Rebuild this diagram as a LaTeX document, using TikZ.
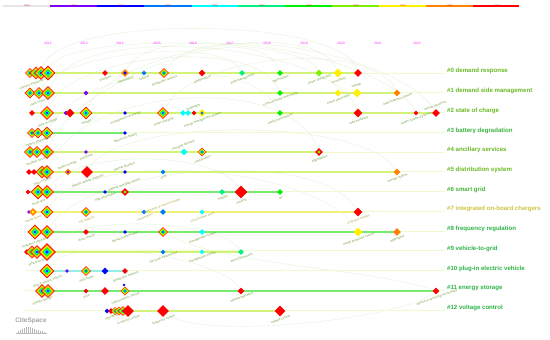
\documentclass[tikz,border=0pt]{standalone}
\usepackage{fontspec}
\setmainfont{Liberation Sans}
\usetikzlibrary{shapes.geometric,positioning,backgrounds}
% year colours of the time slices
\definecolor{csgray}{RGB}{230,230,230}
\definecolor{cspurple}{RGB}{120,0,255}
\definecolor{csblue}{RGB}{0,0,255}
\definecolor{csazure}{RGB}{0,120,255}
\definecolor{cscyan}{RGB}{0,255,255}
\definecolor{csspring}{RGB}{0,240,130}
\definecolor{csgreen}{RGB}{0,240,0}
\definecolor{cslime}{RGB}{125,240,0}
\definecolor{csyellow}{RGB}{255,240,0}
\definecolor{csorange}{RGB}{255,130,0}
\definecolor{csred}{RGB}{255,0,0}
\definecolor{csmag}{RGB}{255,40,255}
% timelines and texts
\definecolor{lnyg}{RGB}{210,242,120}
\definecolor{lngreen}{RGB}{120,235,110}
\definecolor{lnyellow}{RGB}{242,242,120}
\definecolor{lncyan}{RGB}{150,240,225}
\definecolor{tagolive}{RGB}{105,185,35}
\definecolor{tagkhaki}{RGB}{205,195,60}
\definecolor{taggreen}{RGB}{45,180,70}
\definecolor{kwgreen}{RGB}{110,160,60}
\definecolor{kwkhaki}{RGB}{175,170,70}
\definecolor{arcgreen}{RGB}{175,215,135}

% concentric year rings: name, x, y, size
\newcommand{\tring}[4]{%
  \node[dia={#4}, fill=csred] (#1) at (#2,#3) {};
  \node[dia={0.86*#4}, fill=csorange] (#1o) at (#2,#3) {};
  \node[dia={0.72*#4}, fill=csyellow] (#1y) at (#2,#3) {};
  \node[dia={0.6*#4}, fill=cslime] (#1l) at (#2,#3) {};
  \node[dia={0.48*#4}, fill=csgreen] (#1g) at (#2,#3) {};
  \node[dia={0.36*#4}, fill=cscyan] (#1c) at (#2,#3) {};
  \node[dia={0.24*#4}, fill=csazure] (#1a) at (#2,#3) {};
  \node[dia={0.13*#4}, fill=csblue] (#1b) at (#2,#3) {};}
% two-tone node: name, x, y, size, outer, inner
\newcommand{\dnode}[6]{%
  \node[dia={#4}, fill=#5] (#1) at (#2,#3) {};
  \node[dia={0.45*#4}, fill=#6] (#1c) at (#2,#3) {};}

\begin{document}
\begin{tikzpicture}[x=1pt, y=-1pt,
  dia/.style={diamond, draw=none, inner sep=0pt, minimum size=#1},
  kw/.style={font=\fontsize{3.1}{3.5}\selectfont, text=kwgreen, rotate=20, inner sep=0.3pt},
  kwk/.style={kw, text=kwkhaki},
  tag/.style={font=\bfseries\fontsize{6.1}{7}\selectfont, anchor=west, inner sep=0pt},
  yr/.style={font=\fontsize{3.3}{3.8}\selectfont, text=csmag, inner sep=0pt},
  barlbl/.style={font=\fontsize{2.4}{3}\selectfont, text=red!70!gray, inner sep=0pt},
  arc/.style={draw=arcgreen, opacity=0.3, line width=0.4pt},
  guide/.style={draw=lnyg!35, line width=0.6pt},
  tl/.style={line width=1.4pt, draw=#1}]
\useasboundingbox (0,0) rectangle (550,340);

% colour bar of the time slices
\fill[csgray] (3,4.5) rectangle (50,7.3);
\fill[cspurple] (50,4.5) rectangle (97,7.3);
\fill[csblue] (97,4.5) rectangle (144,7.3);
\fill[csazure] (144,4.5) rectangle (192,7.3);
\fill[cscyan] (192,4.5) rectangle (238,7.3);
\fill[csspring] (238,4.5) rectangle (285,7.3);
\fill[csgreen] (285,4.5) rectangle (332,7.3);
\fill[cslime] (332,4.5) rectangle (379,7.3);
\fill[csyellow] (379,4.5) rectangle (426,7.3);
\fill[csorange] (426,4.5) rectangle (473,7.3);
\fill[csred] (473,4.5) rectangle (519,7.3);
\foreach \yy [count=\k from 0] in {2012,...,2022}
  \node[barlbl] (b\k) at (27+47*\k,6) {\yy};

% year scale
\node[yr] (y0) at (48,43) {2012};
\node[yr] (y1) at (84,43) {2013};
\node[yr] (y2) at (120,43) {2014};
\node[yr] (y3) at (157,43) {2015};
\node[yr] (y4) at (193,43) {2016};
\node[yr] (y5) at (230,43) {2017};
\node[yr] (y6) at (267,43) {2018};
\node[yr] (y7) at (304,43) {2019};
\node[yr] (y8) at (341,43) {2020};
\node[yr] (y9) at (378,43) {2021};
\node[yr] (y10) at (417,43) {2022};

% #0 demand response
\tring{c0a}{30}{73}{10pt}
\tring{c0b}{36}{73}{13pt}
\tring{c0c}{41}{73}{14pt}
\tring{c0d}{48}{73}{15pt}
\node[dia=6pt, fill=csred] (n0a) at (105,73) {};
\dnode{n0b}{125}{73}{8pt}{csorange}{csblue}
\node[dia=5pt, fill=csazure] (n0c) at (144,73) {};
\tring{n0d}{164}{73}{10pt}
\node[dia=7pt, fill=csred] (n0e) at (202,73) {};
\node[dia=6pt, fill=csspring] (n0f) at (242,73) {};
\node[dia=6pt, fill=csgreen] (n0g) at (280,73) {};
\node[dia=7pt, fill=cslime] (n0h) at (319,73) {};
\node[dia=9pt, fill=csyellow] (n0i) at (338,73) {};
\node[dia=8pt, fill=csred] (n0j) at (358,73) {};
\node[kw, below=1pt of c0b] (k0a) {primary frequency control};
\node[kw, below=1pt of n0a] (k0b) {transport};
\node[kw, below=1pt of n0b] (k0c) {degradation};
\node[kw, below=1pt of n0c] (k0d) {reserve};
\node[kw, below=1pt of n0d] (k0e) {distribution network};
\node[kw, below=1pt of n0e] (k0f) {performance};
\node[kw, below=1pt of n0f] (k0g) {data management};
\node[kw, below=1pt of n0g] (k0h) {optimization};
\node[kw, below=1pt of n0h] (k0i) {power distribution};
\node[kw, below=1pt of n0i] (k0j) {uncertainty};

% #1 demand side management
\tring{c1a}{30}{93}{11pt}
\tring{c1b}{39}{93}{12pt}
\tring{c1c}{48}{93}{14pt}
\node[dia=5pt, fill=cspurple] (n1a) at (86,93) {};
\node[dia=6pt, fill=csgreen] (n1b) at (280,93) {};
\node[dia=7pt, fill=csyellow] (n1c) at (338,93) {};
\node[dia=9pt, fill=csyellow] (n1d) at (357,93) {};
\node[dia=7pt, fill=csorange] (n1e) at (397,93) {};
\node[kw, below=1pt of c1b] (k1a) {state of the art};
\node[kw, below=1pt of n1b] (k1b) {communication technology};
\node[kw, below=1pt of n1c] (k1c) {power generation};
\node[kw, above=1pt of n1d] (k1d) {voltage};
\node[kw, below=1pt of n1e] (k1e) {load frequency control};

% #2 state of charge
\node[dia=6pt, fill=csred] (n2a) at (32,113) {};
\tring{c2a}{47}{113}{14pt}
\node[dia=5pt, fill=cspurple] (n2b) at (66,113) {};
\node[dia=9pt, fill=csred] (n2c) at (70,113) {};
\tring{c2b}{86}{113}{13pt}
\node[dia=4pt, fill=csblue] (n2d) at (125,113) {};
\tring{n2e}{163}{113}{12pt}
\node[dia=6pt, fill=cscyan] (n2f) at (183,113) {};
\node[dia=6pt, fill=cscyan] (n2g) at (188,113) {};
\node[dia=5pt, fill=csred] (n2h) at (194,113) {};
\dnode{n2i}{202}{113}{8pt}{csyellow}{csazure}
\node[dia=6pt, fill=csgreen] (n2j) at (280,113) {};
\node[dia=9pt, fill=csred] (n2k) at (358,113) {};
\node[dia=5pt, fill=csred] (n2l) at (416,113) {};
\node[dia=8pt, fill=csred] (n2m) at (436,113) {};
\node[kw, below=1pt of c2a] (k2a) {state of charge};
\node[kw, below=1pt of c2b] (k2b) {storage};
\node[kw, below=1pt of n2d] (k2c) {management of energy};
\node[kw, below=1pt of n2e] (k2d) {smart charging};
\node[kw, above=1pt of n2h] (k2e) {challenges};
\node[kw, below=1pt of n2i] (k2f) {energy management system};
\node[kw, below=1pt of n2j] (k2g) {policy mechanisms};
\node[kw, below=1pt of n2k] (k2h) {load modeling};
\node[kw, below=1pt of n2l] (k2i) {power system dynamics};
\node[kw, above=1pt of n2m] (k2j) {vehicle dynamics};

% #3 battery degradation
\tring{c3a}{32}{133}{10pt}
\tring{c3b}{38}{133}{11pt}
\tring{c3c}{47}{133}{13pt}
\node[dia=4pt, fill=csblue] (n3a) at (125,133) {};
\node[kw, below=1pt of c3b] (k3a) {battery degradation};
\node[kw, below=1pt of n3a] (k3b) {lithium-ion battery};

% #4 ancillary services
\tring{c4a}{30}{152}{12pt}
\tring{c4b}{37}{152}{12pt}
\tring{c4c}{47}{152}{14pt}
\node[dia=4pt, fill=cspurple] (n4a) at (86,152) {};
\node[dia=7pt, fill=cscyan] (n4b) at (184,152) {};
\tring{n4c}{202}{152}{9pt}
\dnode{n4d}{319}{152}{8pt}{csred}{cslime}
\node[kw, below=1pt of c4b] (k4a) {ancillary services};
\node[kw, below=1pt of n4a] (k4b) {prediction};
\node[kw, above=1pt of n4b] (k4c) {charging demand};
\node[kw, below=1pt of n4c] (k4d) {coordination};
\node[kw, below=1pt of n4d] (k4e) {aggregation};

% #5 distribution system
\node[dia=6pt, fill=csred] (n5a) at (29,172) {};
\node[dia=6pt, fill=csred] (n5b) at (34,172) {};
\tring{c5a}{42}{172}{13pt}
\tring{c5b}{47}{172}{14pt}
\dnode{n5c}{68}{172}{7pt}{csorange}{cspurple}
\node[dia=12pt, fill=csred] (n5d) at (87,172) {};
\node[dia=4pt, fill=csblue] (n5e) at (125,172) {};
\node[dia=5pt, fill=csazure] (n5f) at (163,172) {};
\node[dia=7pt, fill=csorange] (n5g) at (397,172) {};
\node[kw, below=1pt of c5a] (k5a) {plug-in hybrid};
\node[kw, above=1pt of n5c] (k5b) {battery energy};
\node[kw, below=1pt of n5d] (k5c) {electric vehicle charging};
\node[kw, above=1pt of n5e] (k5d) {optimal dispatch};
\node[kw, below=1pt of n5f] (k5e) {cost};
\node[kw, below=1pt of n5g] (k5f) {storage system};

% #6 smart grid
\node[dia=5pt, fill=csred] (n6a) at (28,192) {};
\tring{c6a}{38}{192}{15pt}
\tring{c6b}{47}{192}{14pt}
\node[dia=4pt, fill=csblue] (n6b) at (105,192) {};
\dnode{n6c}{125}{192}{8pt}{csred}{cslime}
\node[dia=6pt, fill=csspring] (n6d) at (222,192) {};
\node[dia=13pt, fill=csred] (n6e) at (241,192) {};
\node[dia=6pt, fill=csgreen] (n6f) at (280,192) {};
\node[kw, below=1pt of c6a] (k6a) {smart grid};
\node[kw, below=1pt of n6b] (k6b) {high penetration};
\node[kw, above=1pt of n6c] (k6c) {optimal charging control};
\node[kw, below=1pt of n6d] (k6d) {mobility};
\node[kw, below=1pt of n6e] (k6e) {scheme};
\node[kw, below=1pt of n6f] (k6f) {iot};

% #7 integrated on-board chargers
\node[dia=4pt, fill=cspurple] (n7a) at (29,212) {};
\dnode{n7b}{33}{212}{8pt}{csorange}{csyellow}
\tring{c7a}{47}{212}{13pt}
\tring{n7c}{86}{212}{10pt}
\node[dia=5pt, fill=csazure] (n7d) at (144,212) {};
\node[dia=6pt, fill=csazure] (n7e) at (163,212) {};
\node[dia=5pt, fill=cscyan] (n7f) at (202,212) {};
\node[dia=9pt, fill=csred] (n7g) at (358,212) {};
\node[kwk, below=1pt of n7b] (k7a) {power factor};
\node[kwk, below=1pt of n7c] (k7b) {city network};
\node[kwk, below=1pt of n7d] (k7c) {coordination};
\node[kwk, above=1pt of n7e] (k7d) {integrated on-board charger};
\node[kwk, below=1pt of n7f] (k7e) {virtual power plant};
\node[kwk, below=1pt of n7g] (k7f) {on-board charger};

% #8 frequency regulation
\tring{c8a}{35}{232}{15pt}
\tring{c8b}{47}{232}{14pt}
\node[dia=6pt, fill=csred] (n8a) at (86,232) {};
\node[dia=4pt, fill=csblue] (n8b) at (125,232) {};
\tring{n8c}{163}{232}{10pt}
\node[dia=6pt, fill=cscyan] (n8d) at (202,232) {};
\node[dia=9pt, fill=csyellow] (n8e) at (358,232) {};
\node[dia=8pt, fill=csorange] (n8f) at (397,232) {};
\node[kw, below=1pt of c8a] (k8a) {frequency regulation};
\node[kw, below=1pt of n8a] (k8b) {drive vehicle};
\node[kw, below=1pt of n8b] (k8c) {demand optimization};
\node[kw, below=1pt of n8d] (k8d) {management system};
\node[kw, below=1pt of n8e] (k8e) {model predictive control};
\node[kw, below=1pt of n8f] (k8f) {aggregator};

% #9 vehicle-to-grid
\node[dia=6pt, fill=csred] (n9a) at (27,252) {};
\tring{c9a}{32}{252}{13pt}
\tring{c9b}{37}{252}{14pt}
\tring{c9c}{47}{252}{18pt}
\node[dia=5pt, fill=csazure] (n9b) at (163,252) {};
\node[dia=5pt, fill=cscyan] (n9c) at (202,252) {};
\node[dia=6pt, fill=csspring] (n9d) at (241,252) {};
\node[kw, below=1pt of c9b] (k9a) {vehicle-to-grid};
\node[kw, below=1pt of n9b] (k9b) {life cycle assessment};
\node[kw, below=1pt of n9c] (k9c) {management system};
\node[kw, below=1pt of n9d] (k9d) {electricity market};

% #10 plug-in electric vehicle
\tring{c10a}{47}{271}{15pt}
\node[dia=4pt, fill=cspurple] (n10a) at (67,271) {};
\tring{n10b}{86}{271}{10pt}
\node[dia=7pt, fill=csblue] (n10c) at (105,271) {};
\node[dia=6pt, fill=csred] (n10d) at (125,271) {};
\node[kw, below=1pt of c10a] (k10a) {plug-in electric vehicle};
\node[kw, below=1pt of n10b] (k10b) {daily travel};
\node[kw, below=1pt of n10d] (k10c) {distribution network};

% #11 energy storage
\tring{c11a}{42}{291}{14pt}
\tring{c11b}{48}{291}{14pt}
\node[dia=5pt, fill=csred] (n11a) at (86,291) {};
\node[dia=8pt, fill=csred] (n11b) at (105,291) {};
\node[dia=3pt, fill=csblue] (n11c) at (124,285) {};
\tring{n11d}{125}{291}{9pt}
\node[dia=7pt, fill=csred] (n11e) at (241,291) {};
\node[dia=7pt, fill=csred] (n11f) at (436,291) {};
\node[kw, below=1pt of c11a] (k11a) {energy storage};
\node[kw, below=1pt of n11a] (k11b) {price};
\node[kw, below=1pt of n11d] (k11c) {hybrid electric vehicle};
\node[kw, below=1pt of n11e] (k11d) {optimal operation};
\node[kw, below=1pt of n11f] (k11e) {vehicle-to-grid (v2g) technology};

% #12 voltage control
\node[dia=5pt, fill=csblue] (n12a) at (107,311) {};
\node[dia=6pt, fill=csred] (n12b) at (111,311) {};
\tring{n12c}{115}{311}{8pt}
\tring{n12d}{119}{311}{9pt}
\tring{n12e}{123}{311}{10pt}
\node[dia=12pt, fill=csred] (n12f) at (128,311) {};
\node[dia=12pt, fill=csred] (n12g) at (163,311) {};
\node[dia=11pt, fill=csred] (n12h) at (280,311) {};
\node[kw, below=1pt of n12b] (k12a) {regulation};
\node[kw, below=1pt of n12f] (k12b) {in electric vehicle};
\node[kw, below=1pt of n12g] (k12c) {frequency control};
\node[kw, below=1pt of n12h] (k12d) {voltage control};

% cluster tags
\node[tag, text=tagolive] (t0) at (447,71) {\#0 demand response};
\node[tag, text=tagolive] (t1) at (447,91) {\#1 demand side management};
\node[tag, text=tagolive] (t2) at (447,111) {\#2 state of charge};
\node[tag, text=taggreen!80!tagolive] (t3) at (447,131) {\#3 battery degradation};
\node[tag, text=tagolive] (t4) at (447,150) {\#4 ancillary services};
\node[tag, text=tagolive] (t5) at (447,170) {\#5 distribution system};
\node[tag, text=taggreen!60!tagolive] (t6) at (447,190) {\#6 smart grid};
\node[tag, text=tagkhaki] (t7) at (447,209) {\#7 integrated on-board chargers};
\node[tag, text=taggreen] (t8) at (447,229) {\#8 frequency regulation};
\node[tag, text=taggreen] (t9) at (447,249) {\#9 vehicle-to-grid};
\node[tag, text=taggreen] (t10) at (447,269) {\#10 plug-in electric vehicle};
\node[tag, text=taggreen] (t11) at (447,288) {\#11 energy storage};
\node[tag, text=taggreen] (t12) at (447,308) {\#12 voltage control};

% CiteSpace mark
\node[font=\bfseries\fontsize{6.5}{7}\selectfont, text=black!35, inner sep=0pt] (logo) at (31,321) {CiteSpace};
\fill[black!28] (16,333) rectangle (47,334);
\foreach \bx/\bh in {18/2,20/3,22/4,24/5,26/6,28/6.5,30/6,32/5,34/4,36/3.5,38/3,40/2.5,42/2,44/1.5}
  \fill[black!28] (\bx,333) rectangle ++(1.2,-\bh);

\begin{pgfonlayer}{background}
\fill[white] (0,0) rectangle (550,340);
% citation arcs
\draw[arc] (c0c) to[out=75, in=105, looseness=0.45] (n0j);
\draw[arc] (c1c) to[out=70, in=110, looseness=0.6] (n2k);
\draw[arc] (c2b) to[out=70, in=110, looseness=0.6] (n0i);
\draw[arc] (c0d) to[out=70, in=110, looseness=0.35] (n0h);
\draw[arc] (c2a) to[out=70, in=110, looseness=0.65] (n1b);
\draw[arc] (n0b) to[out=65, in=115, looseness=0.55] (n2l);
\draw[arc] (c4c) to[out=70, in=110, looseness=0.7] (n0g);
\draw[arc] (c1b) to[out=65, in=115, looseness=0.5] (n0f);
\draw[arc] (n2e) to[out=65, in=115, looseness=0.65] (n1e);
\draw[arc] (c5b) to[out=70, in=110, looseness=0.8] (n4d);
\draw[arc] (n0d) to[out=60, in=120, looseness=0.6] (n2m);
\draw[arc] (c3c) to[out=65, in=115, looseness=0.75] (n2j);
\draw[arc] (c6b) to[out=60, in=120, looseness=0.6] (n6e);
\draw[arc] (c8b) to[out=60, in=120, looseness=0.6] (n7g);
\draw[arc] (c9c) to[out=60, in=120, looseness=0.5] (n9d);
\draw[arc] (c7a) to[out=60, in=120, looseness=0.6] (n8e);
\draw[arc] (n5d) to[out=60, in=120, looseness=0.5] (n5g);
\draw[arc] (c10a) to[out=60, in=120, looseness=0.5] (n11e);
\draw[arc] (n12g) to[out=-40, in=-140, looseness=0.4] (n11f);
\draw[arc] (n8c) to[out=-30, in=160, looseness=0.6] (n11f);
% faint guides to the tags
\foreach \i in {0,...,12}
  \draw[guide] (25,73+19.75*\i) -- (445,73+19.75*\i);
% timelines
\draw[tl=lnyg] (c0a.center) -- (n0j.center);
\draw[tl=lnyg] (c1a.center) -- (n1e.center);
\draw[tl=lnyg] (n2a.center) -- (n2m.center);
\draw[tl=lngreen] (c3a.center) -- (n3a.center);
\draw[tl=lnyg] (c4a.center) -- (n4d.center);
\draw[tl=lnyg] (n5a.center) -- (n5g.center);
\draw[tl=lngreen] (n6a.center) -- (n6f.center);
\draw[tl=lnyellow] (n7a.center) -- (n7g.center);
\draw[tl=lngreen] (c8a.center) -- (n8f.center);
\draw[tl=lnyg] (n9a.center) -- (n9d.center);
\draw[tl=lncyan] (c10a.center) -- (n10d.center);
\draw[tl=lngreen] (c11a.center) -- (n11f.center);
\draw[tl=lnyg] (n12a.center) -- (n12h.center);
\end{pgfonlayer}
\end{tikzpicture}
\end{document}
